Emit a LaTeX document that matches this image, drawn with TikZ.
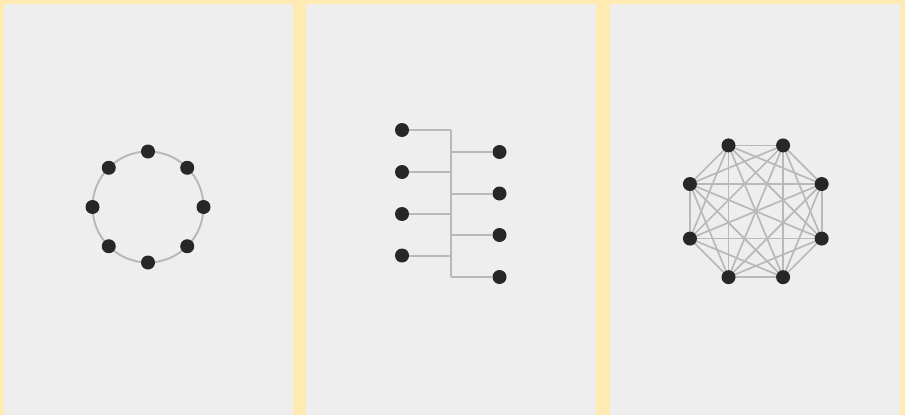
\documentclass[tikz,border=0pt]{standalone}
\usetikzlibrary{calc}
\definecolor{bgyellow}{HTML}{FFEBB2}
\definecolor{panelgray}{HTML}{EEEEEE}
\definecolor{edgegray}{HTML}{B9B9B9}
\definecolor{dotcol}{HTML}{272727}
\tikzset{
  dot/.style={circle,fill=dotcol,draw=none,inner sep=0pt,minimum size=14pt},
  link/.style={draw=edgegray,line width=2pt},
  panel/.style={fill=panelgray,draw=none}
}
\begin{document}
\begin{tikzpicture}[x=1pt,y=-1pt]
\fill[bgyellow] (0,0) rectangle (905,415);
\useasboundingbox (0,0) rectangle (905,415);
\fill[panel] (3.5,3.5) rectangle (293,415);
\fill[panel] (306,3.5) rectangle (596,415);
\fill[panel] (610,3.5) rectangle (899.5,415);

% Panel 1: ring
\coordinate (rc) at (148,207);
\draw[link] (rc) circle[radius=55.5];
\foreach \i in {1,...,8}{
  \node[dot] (c\i) at ($(rc)+({90-45*(\i-1)}:55.5)$) {};
}

% Panel 2: tree / bus
\coordinate (tT) at (451,130);
\coordinate (tB) at (451,277);
\draw[link] (tT) -- (tB);
\foreach \y [count=\i] in {130,172,214,255.5}{
  \node[dot] (L\i) at (402,\y) {};
  \draw[link] (L\i) -- (L\i -| tT);
}
\foreach \y [count=\i] in {152,193.5,235,277}{
  \node[dot] (R\i) at (499.5,\y) {};
  \draw[link] (R\i -| tT) -- (R\i);
}

% Panel 3: complete graph K8
\coordinate (kc) at (755.8,211.3);
\foreach \i in {1,...,8}{
  \coordinate (k\i) at ($(kc)+({112.5-45*(\i-1)}:71.3)$);
}
\foreach \i in {1,...,8}{
  \foreach \j in {1,...,8}{
    \ifnum\j>\i
      \draw[link,line width=1.7pt] (k\i) -- (k\j);
    \fi
  }
}
\foreach \i in {1,...,8}{
  \node[dot] (n\i) at (k\i) {};
}
\end{tikzpicture}
\end{document}
